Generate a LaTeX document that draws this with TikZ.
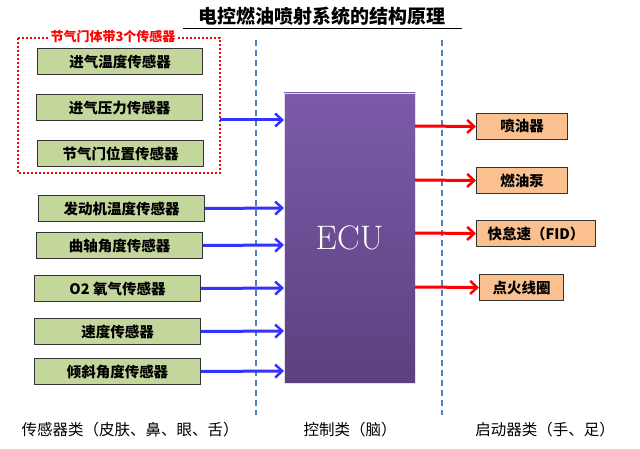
\documentclass[tikz,border=0pt]{standalone}
\usepackage{fontspec}
\setmainfont{Noto Sans CJK SC}
\newfontfamily\lmr{Latin Modern Roman}
\usetikzlibrary{arrows.meta}
\definecolor{gbox}{HTML}{C3D69B}
\definecolor{obox}{HTML}{FAC090}
\definecolor{dline}{HTML}{4F81BD}
\definecolor{ecuT}{HTML}{7C5AA8}
\definecolor{ecuB}{HTML}{5C4080}
\begin{document}
\begin{tikzpicture}[x=1pt,y=-1pt,
 sens/.style={draw=black!80,line width=1pt,fill=gbox,minimum height=26pt,font=\fontsize{14.5}{16}\selectfont\bfseries,anchor=north west,inner sep=0pt},
 act/.style={draw=black!80,line width=1pt,fill=obox,minimum height=26pt,font=\fontsize{14.5}{16}\selectfont\bfseries,anchor=north west,inner sep=0pt},
 barr/.style={draw=blue!80!white,line width=3pt,-{Straight Barb[length=7pt,width=13pt,line width=2.5pt]}},
 rarr/.style={draw=red,line width=3pt,-{Straight Barb[length=7pt,width=13pt,line width=2.5pt]}},
 vdash/.style={draw=dline,line width=1.5pt,dash pattern=on 6pt off 4pt},
 lab/.style={font=\fontsize{15.5}{17}\selectfont}]
\useasboundingbox (0,0) rectangle (640,449);
\fill[white] (0,0) rectangle (640,449);
\node[font=\fontsize{19}{21}\selectfont\bfseries] (title) at (322,16) {电控燃油喷射系统的结构原理};
\draw[line width=0.8pt] (183,28) -- (462,28);
\draw[vdash] (256,40) -- (256,415);
\draw[vdash] (442,40) -- (442,415);
\draw[red,line width=2pt,dotted] (18,38) rectangle (220,173);
\node[fill=white,text=red,font=\fontsize{13}{14}\selectfont\bfseries,inner sep=1pt] (grp) at (113,37) {节气门体带3个传感器};
\coordinate (grpr) at (220,120);
\node[sens,minimum width=165pt] (s1) at (37,48) {进气温度传感器};
\node[sens,minimum width=166pt] (s2) at (36,94) {进气压力传感器};
\node[sens,minimum width=166pt] (s3) at (37,140) {节气门位置传感器};
\node[sens,minimum width=166pt] (s4) at (38,195) {发动机温度传感器};
\node[sens,minimum width=166pt] (s5) at (36,232) {曲轴角度传感器};
\node[sens,minimum width=166pt] (s6) at (34,275) {O2 氧气传感器};
\node[sens,minimum width=166pt] (s7) at (34,318) {速度传感器};
\node[sens,minimum width=166pt] (s8) at (34,358) {倾斜角度传感器};
\shade[top color=ecuT,bottom color=ecuB] (284,93) rectangle (415,383);
\draw[white!80!ecuT,line width=0.6pt] (284,93) rectangle (415,383);
\node[text=white,font=\fontsize{34}{36}\selectfont\lmr] (ecu) at (349.5,238) {ECU};
\coordinate (e1) at (284,120);
\draw[barr] (grpr) -- (e1);
\draw[barr] (s4.east) -- (284,208);
\draw[barr] (s5.east) -- (284,245);
\draw[barr] (s6.east) -- (284,288);
\draw[barr] (s7.east) -- (284,331);
\draw[barr] (s8.east) -- (284,371);
\node[act,minimum width=91pt] (a1) at (476,113) {喷油器};
\node[act,minimum width=91pt] (a2) at (476,167) {燃油泵};
\node[act,minimum width=119pt] (a3) at (476,220) {快怠速（FID）};
\node[act,minimum width=84pt] (a4) at (479,274) {点火线圈};
\draw[rarr] (415,126) -- (a1.west);
\draw[rarr] (415,180) -- (a2.west);
\draw[rarr] (415,233) -- (a3.west);
\draw[rarr] (415,287) -- (a4.west);
\node[lab] (l1) at (130,430) {传感器类（皮肤、鼻、眼、舌）};
\node[lab] (l2) at (350,430) {控制类（脑）};
\node[lab] (l3) at (545,430) {启动器类（手、足）};
\end{tikzpicture}
\end{document}
